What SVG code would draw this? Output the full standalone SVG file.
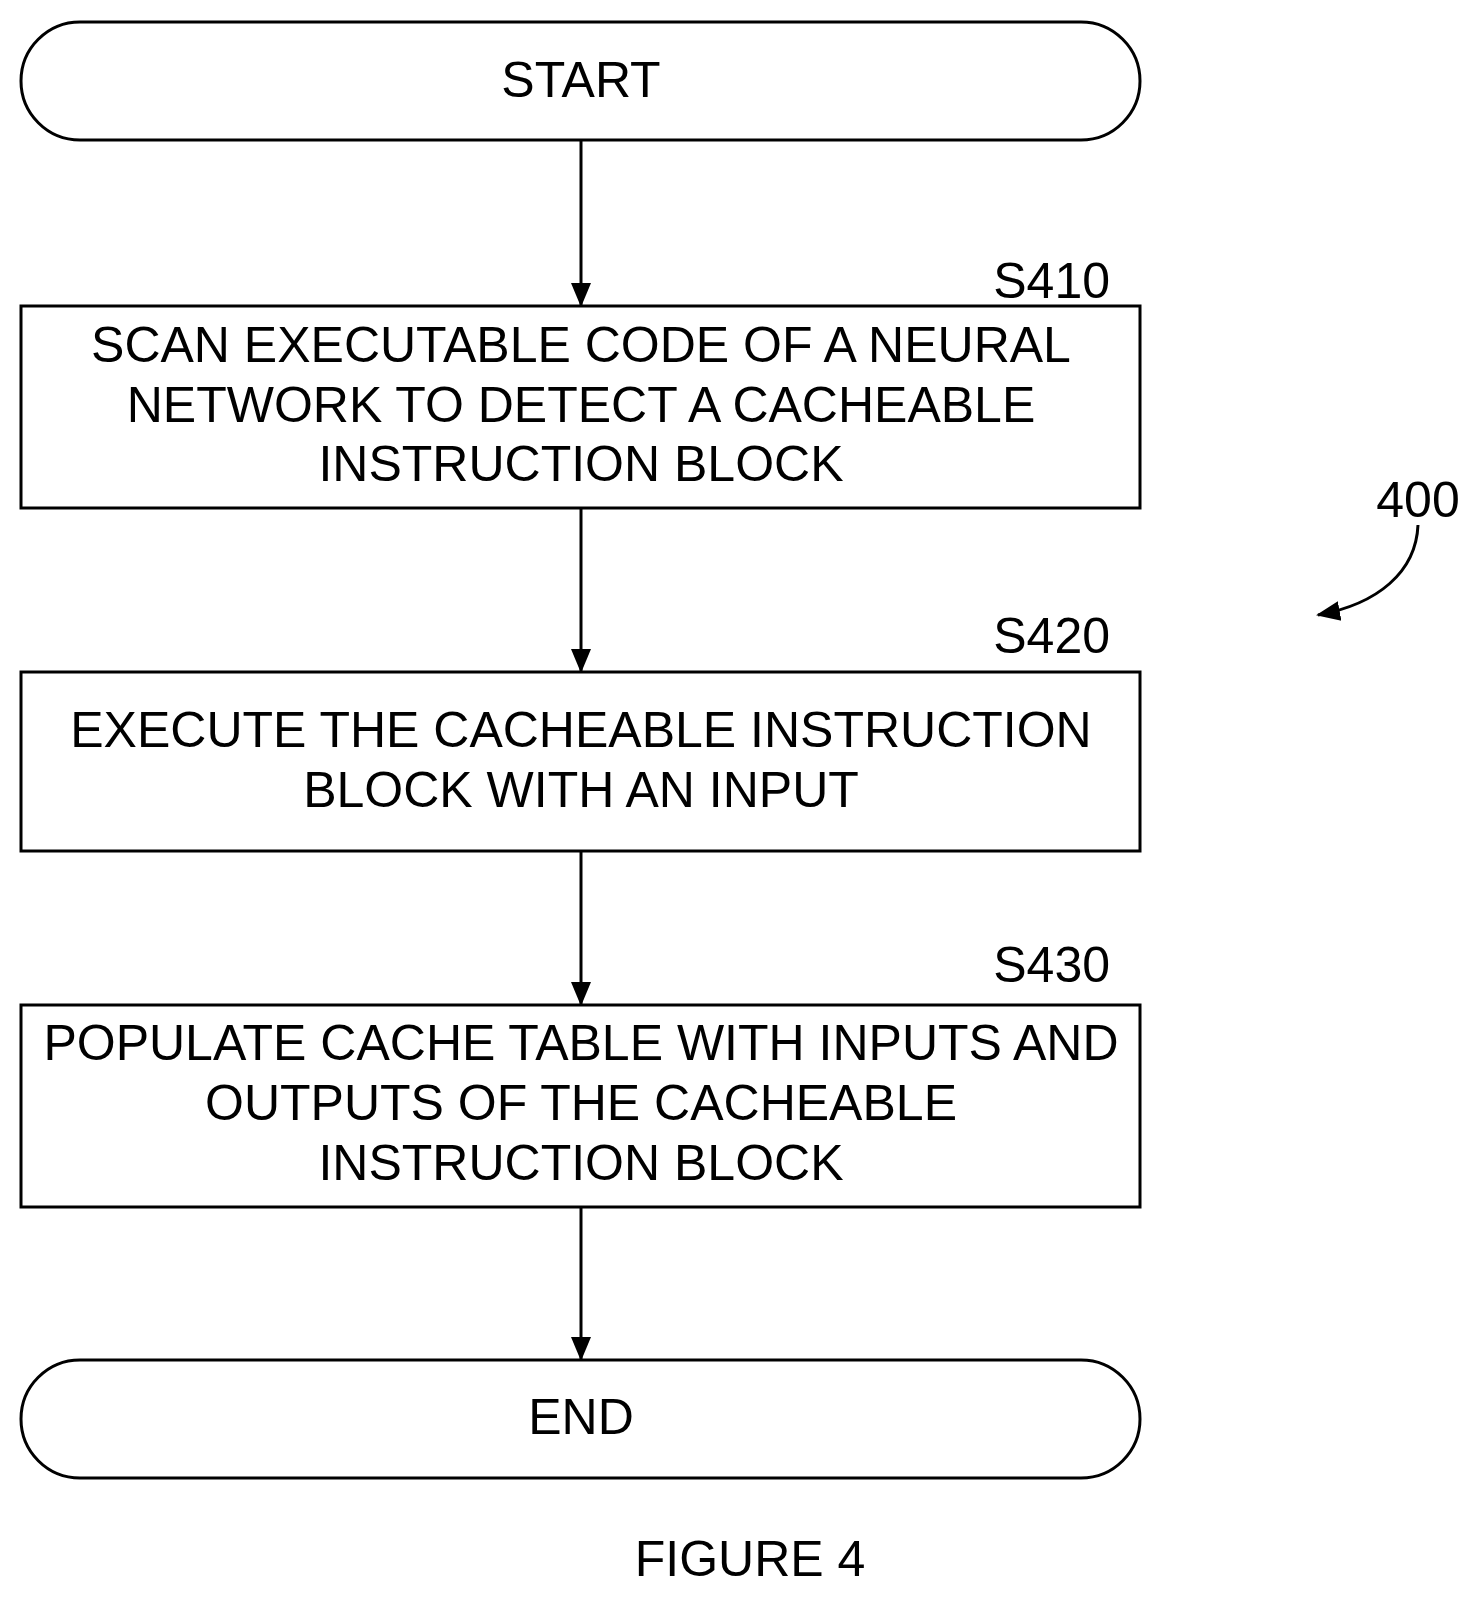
<svg xmlns="http://www.w3.org/2000/svg" width="1478" height="1599" viewBox="0 0 1478 1599">
<style>
.n{fill:#fff;stroke:#000;stroke-width:3}
text{font-family:"Liberation Sans",Arial,sans-serif;font-size:50px;fill:#000}
.c{text-anchor:middle}
.l{text-anchor:end}
.e{stroke:#000;stroke-width:3;fill:none}
</style>
<defs><marker id="b" markerWidth="24" markerHeight="24" refX="22" refY="12" orient="auto" markerUnits="userSpaceOnUse" viewBox="0 0 24 24"><path d="M0,2 L24,12 L0,22 z" fill="#000"/></marker></defs>
<rect width="1478" height="1599" fill="#fff"/>
<g id="start"><rect class="n" x="21" y="22" width="1119" height="118" rx="59"/><text class="c" x="581" y="97">START</text></g>
<g id="s410"><rect class="n" x="21" y="306" width="1119" height="202"/><text class="l" x="1110" y="298">S410</text>
<text class="c" x="581" y="362">SCAN EXECUTABLE CODE OF A NEURAL</text><text class="c" x="581" y="422">NETWORK TO DETECT A CACHEABLE</text><text class="c" x="581" y="481">INSTRUCTION BLOCK</text></g>
<g id="s420"><rect class="n" x="21" y="672" width="1119" height="179"/><text class="l" x="1110" y="653">S420</text>
<text class="c" x="581" y="747">EXECUTE THE CACHEABLE INSTRUCTION</text><text class="c" x="581" y="807">BLOCK WITH AN INPUT</text></g>
<g id="s430"><rect class="n" x="21" y="1005" width="1119" height="202"/><text class="l" x="1110" y="982">S430</text>
<text class="c" x="581" y="1060">POPULATE CACHE TABLE WITH INPUTS AND</text><text class="c" x="581" y="1120">OUTPUTS OF THE CACHEABLE</text><text class="c" x="581" y="1180">INSTRUCTION BLOCK</text></g>
<g id="end"><rect class="n" x="21" y="1360" width="1119" height="118" rx="59"/><text class="c" x="581" y="1434">END</text></g>
<g id="connectors">
<line class="e" x1="581" y1="140" x2="581" y2="305" marker-end="url(#b)"/>
<line class="e" x1="581" y1="508" x2="581" y2="671" marker-end="url(#b)"/>
<line class="e" x1="581" y1="851" x2="581" y2="1004" marker-end="url(#b)"/>
<line class="e" x1="581" y1="1207" x2="581" y2="1359" marker-end="url(#b)"/>
<path class="e" d="M1418,525 C1416,572 1378,604 1318,615" marker-end="url(#b)"/>
</g>
<text class="c" x="1418" y="517">400</text>
<text class="c" x="750" y="1576">FIGURE 4</text>
</svg>
